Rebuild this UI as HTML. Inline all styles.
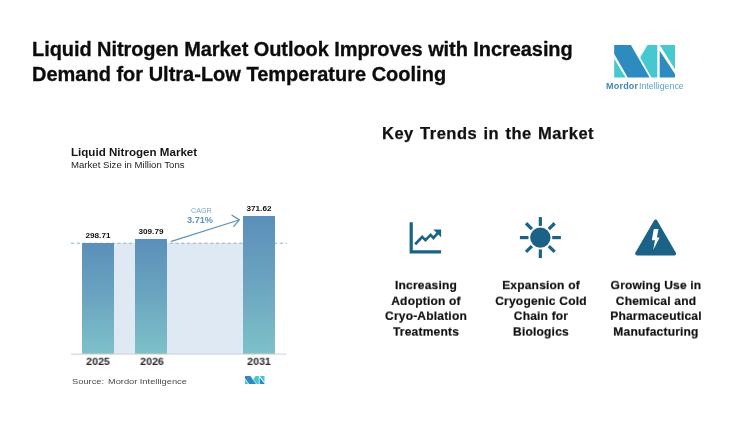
<!DOCTYPE html>
<html>
<head>
<meta charset="utf-8">
<title>Liquid Nitrogen Market</title>
<style>
html,body{margin:0;padding:0;}
body{width:750px;height:428px;overflow:hidden;background:#fff;font-family:"Liberation Sans",sans-serif;position:relative;color:#111;}
.abs{position:absolute;white-space:pre;}
body>*{will-change:transform;}
.title{left:32.4px;top:36.4px;font-size:20px;font-weight:bold;line-height:24.2px;color:#0c0c0c;-webkit-text-stroke:0.3px #0c0c0c;transform:scaleY(1.05);transform-origin:0 0;}
.title .l1{letter-spacing:-0.07px;display:block;}
.title .l2{display:block;}
.kt{left:382.3px;top:123.1px;font-size:16.5px;font-weight:bold;color:#111;line-height:20px;letter-spacing:0.5px;word-spacing:1.2px;-webkit-text-stroke:0.25px #111;}
.lbl{position:absolute;width:130px;text-align:center;font-size:12px;font-weight:bold;line-height:16.72px;color:#111;top:277.9px;letter-spacing:0.2px;-webkit-text-stroke:0.2px #111;transform:scaleY(0.93);transform-origin:50% 0;}
.ct{left:70.9px;top:146.6px;font-size:10.4px;font-weight:bold;color:#161616;transform:scaleX(1.115);transform-origin:0 0;}
.cs{left:70.7px;top:159.8px;font-size:8.3px;color:#222;transform:scaleX(1.158);transform-origin:0 0;}
.yr{position:absolute;font-size:10px;font-weight:bold;color:#2a2a2a;width:40px;text-align:center;top:356.4px;transform:scale(1.07,0.9);transform-origin:50% 75%;}
.val{position:absolute;font-size:7.5px;font-weight:bold;color:#111;width:40px;text-align:center;transform:scaleX(1.09);}
.bar{position:absolute;background:linear-gradient(180deg,#5b8fba 0%,#6ba5c0 50%,#7ec1c9 100%);}
</style>
</head>
<body>
<div class="abs title"><span class="l1">Liquid Nitrogen Market Outlook Improves with Increasing</span><span class="l2">Demand for Ultra-Low Temperature Cooling</span></div>

<!-- logo -->
<svg class="abs" style="left:610px;top:40px" width="80" height="56" viewBox="0 0 80 56">
  <polygon points="4.2,5.1 20.9,5.1 39.6,37.5 17.7,37.5 4.2,13.9" fill="#2e8bc0"/>
  <polygon points="4.2,18.7 15.6,37.5 4.2,37.5" fill="#45c8cf"/>
  <polygon points="37.5,5.1 47.3,5.1 47.3,37.5 41.5,37.5 30.2,17.6" fill="#45c8cf"/>
  <polygon points="49.7,5.1 65,5.1 65,29.3" fill="#45c8cf"/>
  <polygon points="49.7,10.7 65,34.1 65,37.5 49.7,37.5" fill="#2e8bc0"/>
</svg>
<div class="abs" style="left:606px;top:80.5px;font-size:9px;line-height:11px;color:#3f86b4;"><b style="letter-spacing:0.22px">Mordor</b><span style="color:#5aa0c8;font-size:8.8px;margin-left:0.6px;letter-spacing:0.03px">Intelligence</span></div>

<div class="abs kt">Key Trends in the Market</div>

<!-- chart -->
<div class="abs ct">Liquid Nitrogen Market</div>
<div class="abs cs">Market Size in Million Tons</div>

<div class="abs" style="left:114px;top:243px;width:129px;height:111px;background:#dfe9f3"></div>
<svg class="abs" style="left:0;top:0" width="750" height="428" viewBox="0 0 750 428">
  <line x1="71" y1="243.3" x2="287" y2="243.3" stroke="#8fb4cf" stroke-width="1.1" stroke-dasharray="3.2,2.6"/>
</svg>
<div class="bar" style="left:82px;top:242.5px;width:32px;height:111px"></div>
<div class="bar" style="left:135px;top:238.7px;width:32px;height:115px"></div>
<div class="bar" style="left:243px;top:216px;width:32px;height:137.5px"></div>
<svg class="abs" style="left:0;top:0" width="750" height="428" viewBox="0 0 750 428">
  <line x1="71" y1="354.1" x2="286.5" y2="354.1" stroke="#cfcfcf" stroke-width="1"/>
  <g fill="none" stroke="#5b93bd" stroke-width="1.25" stroke-linecap="round" stroke-linejoin="round">
    <line x1="171.4" y1="241.3" x2="239" y2="220"/>
    <polyline points="232,215.2 239.3,219.9 233.8,226.4"/>
  </g>
</svg>
<div class="val" style="left:77.6px;top:230.5px">298.71</div>
<div class="val" style="left:130.8px;top:226.5px">309.79</div>
<div class="val" style="left:239px;top:204px">371.62</div>
<div class="abs" style="left:191px;top:206.5px;font-size:6.6px;color:#7aa7cb;transform:scaleX(1.09);transform-origin:0 0;">CAGR</div>
<div class="abs" style="left:186.6px;top:215.2px;font-size:9px;font-weight:bold;color:#5b93bd;transform:scaleX(1.02);transform-origin:0 0;">3.71%</div>

<div class="yr" style="left:78px">2025</div>
<div class="yr" style="left:131.5px">2026</div>
<div class="yr" style="left:239px">2031</div>
<div class="abs" style="left:72px;top:376.6px;font-size:8px;color:#4a4a4a;transform:scaleX(1.165);transform-origin:0 0;">Source:<span style="margin-left:1px"> Mordor</span><span style="margin-left:-0.2px"> Intelligence</span></div>
<svg class="abs" style="left:244.5px;top:376px" width="19.5" height="8.3" viewBox="4.2 5.1 60.8 32.4" preserveAspectRatio="none">
  <polygon points="4.2,5.1 20.9,5.1 39.6,37.5 17.7,37.5 4.2,13.9" fill="#2e8bc0"/>
  <polygon points="4.2,18.7 15.6,37.5 4.2,37.5" fill="#45c8cf"/>
  <polygon points="37.5,5.1 47.3,5.1 47.3,37.5 41.5,37.5 30.2,17.6" fill="#45c8cf"/>
  <polygon points="49.7,5.1 65,5.1 65,29.3" fill="#45c8cf"/>
  <polygon points="49.7,10.7 65,34.1 65,37.5 49.7,37.5" fill="#2e8bc0"/>
</svg>

<!-- icons -->
<svg class="abs" style="left:0;top:0" width="750" height="428" viewBox="0 0 750 428">
  <g fill="#1a6286" stroke="none">
    <!-- chart icon -->
    <path d="M409.6 222.3 H412.8 V250.3 H441.1 V253.5 H409.6 Z"/>
    <polyline points="415.2,244.3 422.2,236.9 425.5,240.1 430.6,234.9 433.4,237.9 438.2,232.6" fill="none" stroke="#1a6286" stroke-width="2.7" stroke-linejoin="miter"/>
    <polygon points="433.3,229.5 441.1,229.5 441.1,237.2"/>
    <!-- sun -->
    <circle cx="540.35" cy="237.6" r="10.2"/>
    <g stroke="#1a6286" stroke-width="3.2" fill="none">
      <line x1="540.35" y1="217.1" x2="540.35" y2="225.9"/>
      <line x1="540.35" y1="249.4" x2="540.35" y2="258.1"/>
      <line x1="519.9" y1="237.6" x2="528.5" y2="237.6"/>
      <line x1="552.2" y1="237.6" x2="560.9" y2="237.6"/>
      <line x1="526.0" y1="223.25" x2="531.9" y2="229.15"/>
      <line x1="554.7" y1="223.25" x2="548.8" y2="229.15"/>
      <line x1="526.0" y1="251.95" x2="531.9" y2="246.05"/>
      <line x1="554.7" y1="251.95" x2="548.8" y2="246.05"/>
    </g>
    <!-- triangle -->
    <polygon points="655.6,221.4 674.3,253.6 636.9,253.6" stroke="#1a6286" stroke-width="3.6" stroke-linejoin="round"/>
    <polygon points="653.8,229.1 658.5,229.1 656.9,237.6 659.6,237.6 653.2,250.1 655,240.2 651.8,240.2" fill="#fff"/>
  </g>
</svg>

<div class="lbl" style="left:360.6px">Increasing<br>Adoption of<br>Cryo-Ablation<br>Treatments</div>
<div class="lbl" style="left:475.8px">Expansion of<br>Cryogenic Cold<br>Chain for<br>Biologics</div>
<div class="lbl" style="left:590.5px">Growing Use in<br>Chemical and<br>Pharmaceutical<br>Manufacturing</div>
</body>
</html>
